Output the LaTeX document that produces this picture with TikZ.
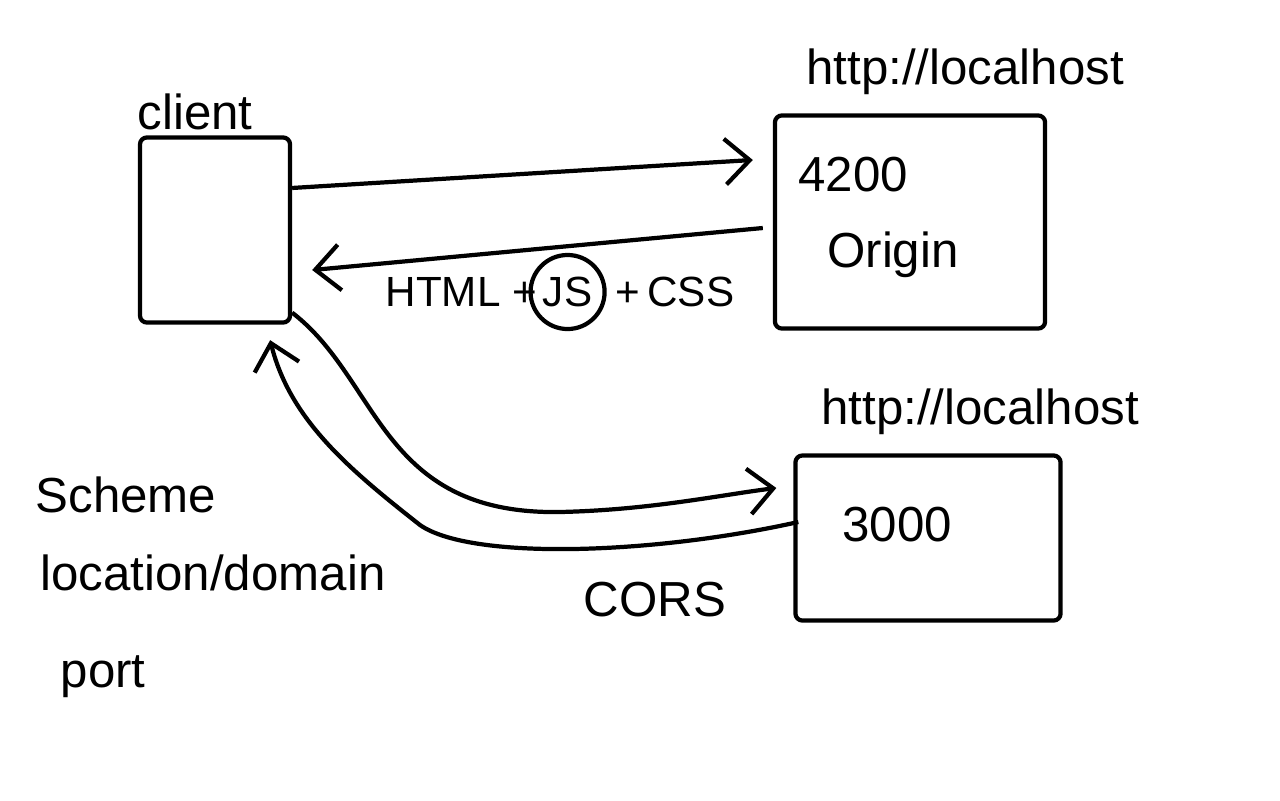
\documentclass[tikz,border=0pt]{standalone}
\usepackage{fontspec}
\setmainfont{Liberation Sans}
\usetikzlibrary{calc,arrows.meta,positioning}
\begin{document}
\begin{tikzpicture}[x=0.01cm,y=-0.01cm,line width=1.2pt,
  every node/.style={font=\fontsize{14}{17}\selectfont,inner sep=1pt},
  box/.style={draw,rectangle,rounded corners=2pt},
  small/.style={font=\fontsize{12}{14}\selectfont},
  arr/.style={-{Straight Barb[length=7pt,width=13pt]}}]
\useasboundingbox (0,0) rectangle (1280,800);
\node[box,minimum width=1.5cm,minimum height=1.85cm] (client) at (215,230){};
\node[box,minimum width=2.7cm,minimum height=2.13cm] (srvA) at (910,222){};
\node[box,minimum width=2.65cm,minimum height=1.65cm] (srvB) at (928,538){};
\node (clientlbl) at (195,112){client};
\node (urlA) at (965,72){http://localhost};
\node (urlB) at (980,412){http://localhost};
\node (portA) at (853,175){4200};
\node (origin) at (893,255){Origin};
\node (portB) at (897,525){3000};
\node[small,anchor=west] (html) at (380,292){HTML +};
\node[small,draw,circle,minimum size=0.74cm,right=-4pt of html] (js){JS};
\node[small,right=1pt of js] (css){+\,CSS};
\node (cors) at (655,600){CORS};
\node[anchor=west] (scheme) at (30,495){Scheme};
\node[anchor=west] (domain) at (35,573){location/domain};
\node[anchor=west] (port) at (55,677){port};
\draw[arr] ([yshift=0.42cm]client.east) -- ([xshift=-0.2cm,yshift=0.62cm]srvA.west);
\draw[arr] ([xshift=-0.1cm,yshift=-0.06cm]srvA.west) -- ([xshift=0.2cm,yshift=-0.4cm]client.east);
\draw[arr] ([yshift=0.12cm]client.south east) .. controls (380,380) and (380,515) .. (560,512)
  .. controls (650,510) and (720,495) .. ([xshift=-0.17cm,yshift=0.5cm]srvB.west);
\draw[arr] ([xshift=0.05cm,yshift=0.16cm]srvB.west) .. controls (650,555) and (470,560) .. (420,525)
  .. controls (350,470) and (290,420) .. ([xshift=-0.22cm,yshift=-0.155cm]client.south east);
\end{tikzpicture}
\end{document}
